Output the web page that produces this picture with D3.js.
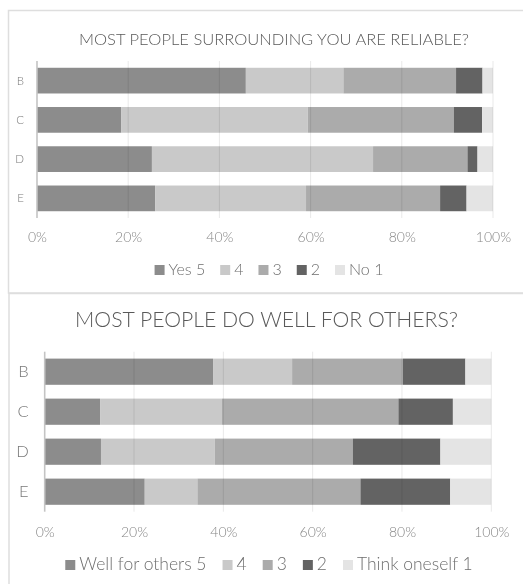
<!DOCTYPE html>
<html>
<head>
<meta charset="utf-8">
<script src="https://cdn.jsdelivr.net/npm/d3@7"></script>
<style>
html,body{margin:0;padding:0;background:#fff;}
svg{display:block;filter:grayscale(1);}
text{font-family:Lato,"Open Sans",sans-serif;font-weight:300;}
</style>
</head>
<body>
<svg id="chart" width="523" height="584"></svg>
<script>
const categories = ["B", "C", "D", "E"];
const ticks = [0, 0.2, 0.4, 0.6, 0.8, 1.0];

const title1 = "MOST PEOPLE SURROUNDING YOU ARE RELIABLE?";
const legend1 = ["Yes 5", "4", "3", "2", "No 1"];
const yes5_1 = [45.8, 18.5, 25.2, 25.9];
const s4_1   = [21.4, 40.9, 48.5, 33.1];
const s3_1   = [24.7, 32.0, 20.7, 29.4];
const s2_1   = [5.8, 6.2, 2.2, 5.8];
const no1_1  = [2.3, 2.4, 3.4, 5.8];

const title2 = "MOST PEOPLE DO WELL FOR OTHERS?";
const legend2 = ["Well for others 5", "4", "3", "2", "Think oneself 1"];
const well5_2 = [37.7, 12.4, 12.6, 22.4];
const s4_2    = [17.7, 27.3, 25.5, 11.8];
const s3_2    = [24.8, 39.5, 30.9, 36.5];
const s2_2    = [14.0, 12.2, 19.6, 20.1];
const think1_2= [5.8, 8.6, 11.4, 9.2];

const colors = ["#8c8c8c", "#c9c9c9", "#ababab", "#636363", "#e4e4e4"];

const svg = d3.select("#chart");

// panel borders
svg.append("rect").attr("x", 8.5).attr("y", 10.5).attr("width", 540).attr("height", 282.5)
  .attr("fill", "none").attr("stroke", "#dedede").attr("stroke-width", 1.5);
svg.append("rect").attr("x", 9).attr("y", 293.5).attr("width", 540).attr("height", 320)
  .attr("fill", "none").attr("stroke", "#dedede").attr("stroke-width", 1.5);

function fitText(sel, width) {
  const w = sel.node().getComputedTextLength();
  const fs = parseFloat(sel.attr("font-size"));
  sel.attr("font-size", fs * width / w);
}

function drawChart(cfg) {
  const g = svg.append("g");
  const series = cfg.series;
  const rows = categories.map((c, i) => {
    const o = {cat: c};
    series.forEach((s, k) => o["k" + k] = s[i]);
    return o;
  });
  const keys = series.map((s, k) => "k" + k);
  const stacked = d3.stack().keys(keys).offset(d3.stackOffsetExpand)(rows);

  const x = d3.scaleLinear().domain([0, 1]).range([cfg.x0, cfg.x1]);
  const y = d3.scaleBand().domain(categories).range([cfg.y0, cfg.y1])
    .paddingInner(0.345).paddingOuter(0.1725);

  // bars
  stacked.forEach((layer, k) => {
    g.append("g").selectAll("rect").data(layer).join("rect")
      .attr("x", d => x(d[0]))
      .attr("y", d => y(d.data.cat))
      .attr("width", d => x(d[1]) - x(d[0]))
      .attr("height", y.bandwidth())
      .attr("fill", colors[k]);
  });

  // gridlines (drawn over bars, translucent)
  g.append("g").selectAll("line").data(ticks.slice(1)).join("line")
    .attr("x1", d => x(d)).attr("x2", d => x(d))
    .attr("y1", cfg.y0).attr("y2", cfg.y1)
    .attr("stroke", "rgba(0,0,0,0.09)").attr("stroke-width", 1);

  // axis line
  g.append("line").attr("x1", cfg.x0).attr("x2", cfg.x0)
    .attr("y1", cfg.y0).attr("y2", cfg.y1)
    .attr("stroke", "#c4c4c4").attr("stroke-width", 1.6);

  // tick labels
  const xAxis = d3.axisBottom(x).tickValues(ticks).tickFormat(d3.format(".0%")).tickSize(0);
  const ax = g.append("g").attr("transform", `translate(0,${cfg.tickY})`).call(xAxis);
  ax.select(".domain").remove();
  ax.attr("font-family", null).attr("font-size", null).attr("fill", null);
  ax.selectAll("text")
    .attr("dy", 0).attr("y", 0).attr("fill", null)
    .style("font-size", cfg.tickFs + "px").style("fill", "#878787")
    .style("font-family", "Lato, 'Open Sans', sans-serif").style("font-weight", 300);

  // category labels
  const yAxis = d3.axisLeft(y).tickSize(0);
  const ay = g.append("g").attr("transform", `translate(${cfg.x0 - cfg.catPad},0)`).call(yAxis);
  ay.select(".domain").remove();
  ay.attr("font-family", null).attr("font-size", null).attr("fill", null);
  ay.selectAll("text")
    .attr("x", 0).attr("dy", "0.35em").attr("fill", null)
    .style("font-size", cfg.catFs + "px").style("fill", "#7a7a7a")
    .style("font-family", "Lato, 'Open Sans', sans-serif").style("font-weight", 300);

  // title
  const t = g.append("text").attr("x", cfg.titleX).attr("y", cfg.titleY)
    .attr("text-anchor", "middle").attr("font-size", 16).style("fill", "#595959")
    .text(cfg.title);
  fitText(t, cfg.titleW);

  // legend
  const lg = g.append("g");
  let cx = 0;
  const sq = 10;
  cfg.legend.forEach((lab, k) => {
    lg.append("rect").attr("x", cx).attr("y", -sq).attr("width", sq).attr("height", sq)
      .attr("fill", colors[k]);
    const tt = lg.append("text").attr("x", cx + sq + 4).attr("y", 0)
      .attr("font-size", cfg.legFs).style("fill", "#6e6e6e").text(lab);
    cx += sq + 4 + tt.node().getComputedTextLength() + cfg.legGap;
  });
  const total = cx - cfg.legGap;
  lg.attr("transform", `translate(${cfg.legCx - total / 2},${cfg.legY})`);
}

drawChart({
  series: [yes5_1, s4_1, s3_1, s2_1, no1_1],
  x0: 37, x1: 493, y0: 61, y1: 218,
  tickY: 242, tickFs: 14, catFs: 11.5, catPad: 13,
  title: title1, titleX: 274, titleY: 45, titleW: 390,
  legend: legend1, legFs: 16, legGap: 15, legCx: 269, legY: 275
});

drawChart({
  series: [well5_2, s4_2, s3_2, s2_2, think1_2],
  x0: 44.7, x1: 491.3, y0: 351.7, y1: 511.7,
  tickY: 537, tickFs: 14, catFs: 16.5, catPad: 16,
  title: title2, titleX: 266.5, titleY: 327, titleW: 383,
  legend: legend2, legFs: 17.5, legGap: 16, legCx: 269, legY: 570
});
</script>
</body>
</html>
